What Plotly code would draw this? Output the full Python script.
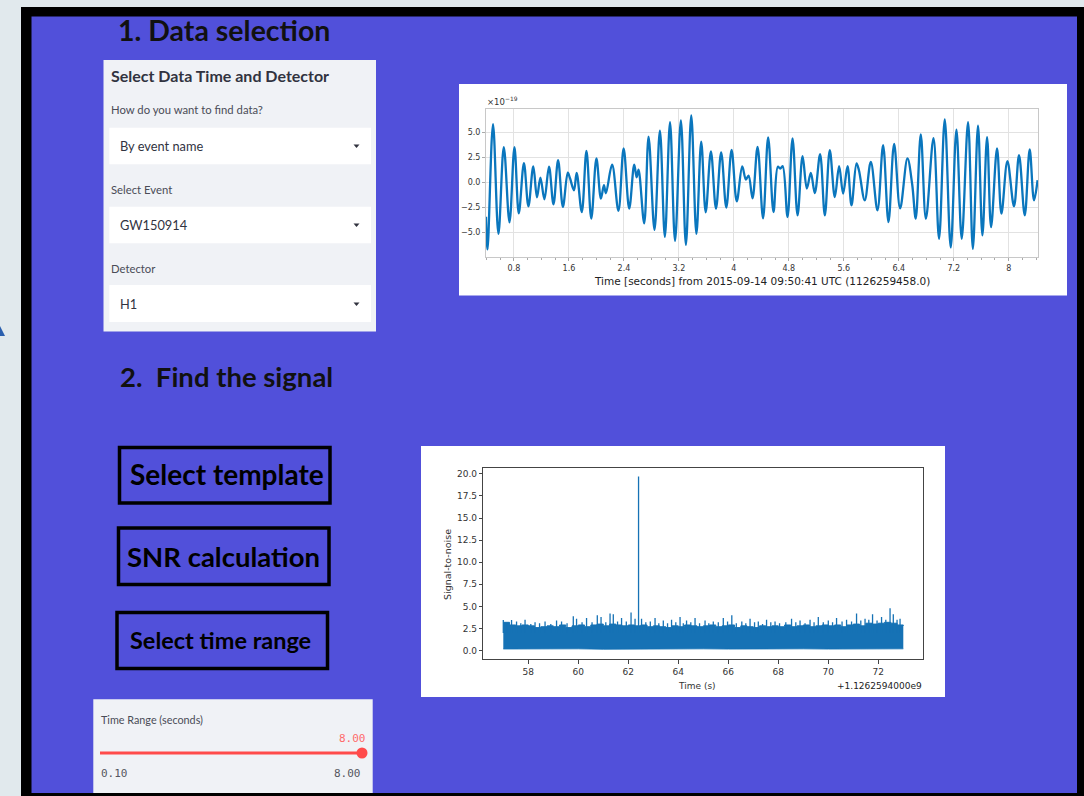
import plotly.graph_objects as go

W, H = 1084, 796

# ---- strain (H1, GW150914) : turning points of the whitened trace, units of 1e-19
strain_t = [0.393, 0.415, 0.495, 0.574, 0.652, 0.735, 0.807, 0.870, 0.945, 1.010,
            1.081, 1.135, 1.185, 1.243, 1.310, 1.375, 1.442, 1.512, 1.583, 1.615,
            1.673, 1.712, 1.787, 1.855, 1.925, 2.000, 2.065, 2.109, 2.138, 2.228,
            2.320, 2.396, 2.477, 2.550, 2.585, 2.613, 2.695, 2.759, 2.845, 2.924,
            2.996, 3.071, 3.144, 3.229, 3.302, 3.380, 3.455, 3.525, 3.590, 3.666,
            3.740, 3.815, 3.890, 3.967, 4.042, 4.122, 4.175, 4.214, 4.272, 4.345,
            4.425, 4.499, 4.577, 4.640, 4.675, 4.710, 4.781, 4.854, 4.927, 5.000,
            5.062, 5.120, 5.178, 5.255, 5.324, 5.396, 5.469, 5.532, 5.590, 5.654,
            5.712, 5.785, 5.820, 5.905, 5.993, 6.090, 6.172, 6.250, 6.332, 6.420,
            6.526, 6.595, 6.647, 6.720, 6.795, 6.905, 6.986, 7.069, 7.156, 7.239,
            7.316, 7.408, 7.478, 7.553, 7.617, 7.685, 7.743, 7.830, 7.894, 7.981,
            8.077, 8.150, 8.233, 8.305, 8.368, 8.420]
strain_v = [-3.45, -6.70, 5.80, -5.15, 3.50, -4.00, 3.50, -3.10, 1.90, -2.40,
            1.58, -1.50, 0.45, -1.70, 1.55, -2.20, 2.20, -2.45, 0.95, 0.40,
            -0.80, 0.93, -2.97, 3.13, -3.63, 2.37, -1.63, -0.30, -1.10, 1.75,
            -2.85, 3.37, -2.63, 1.75, 0.50, 1.25, -4.10, 4.55, -4.75, 5.13,
            -5.45, 5.98, -5.85, 6.17, -6.25, 6.65, -5.15, 4.05, -3.00, 3.07,
            -2.63, 2.98, -2.52, 3.23, -1.90, 1.57, 0.27, 0.65, -1.60, 3.53,
            -3.60, 4.47, -2.97, 1.55, 1.35, 1.60, -3.47, 4.37, -3.30, 2.60,
            -0.63, 0.93, -1.07, 2.80, -3.30, 3.20, -1.47, 1.60, -1.13, 1.60,
            -2.30, 1.87, 1.20, -1.80, 2.03, -2.80, 3.70, -3.97, 3.82, -2.60,
            2.37, -0.20, -3.63, 4.77, -3.63, 4.40, -5.63, 6.27, -6.50, 5.25,
            -5.63, 6.00, -6.63, 5.65, -5.30, 4.50, -4.47, 3.37, -3.13, 2.10,
            -2.40, 2.70, -3.30, 3.27, -1.80, 0.20]
strain_xticks = [0.8, 1.6, 2.4, 3.2, 4.0, 4.8, 5.6, 6.4, 7.2, 8.0]
strain_xlabels = ["0.8", "1.6", "2.4", "3.2", "4", "4.8", "5.6", "6.4", "7.2", "8"]
strain_yticks = [-5.0, -2.5, 0.0, 2.5, 5.0]

# ---- matched-filter SNR
snr_start, snr_step = 57.0, 0.25
snr_upper = [3.2, 2.9, 2.8, 2.9, 2.8, 2.6, 2.7, 2.8, 2.7, 2.9, 2.6, 2.8, 2.9,
             2.7, 2.9, 3.0, 2.8, 3.0, 2.9, 2.8, 2.9, 2.8, 2.9, 2.7, 2.8, 2.7,
             2.6, 2.8, 2.7, 2.9, 2.8, 2.7, 2.8, 2.9, 2.7, 2.8, 2.9, 2.6, 2.8,
             2.7, 2.6, 2.8, 2.7, 2.8, 2.7, 2.9, 2.7, 2.8, 2.9, 2.7, 2.8, 2.9,
             2.8, 2.9, 2.7, 2.9, 3.0, 2.8, 3.1, 3.0, 3.1, 3.2, 3.1, 2.9, 2.8]
snr_lower_t = [57, 58, 59, 60, 61, 62, 63, 64, 65, 66, 67, 68, 69, 70, 71, 72, 73]
snr_lower = [0.18, 0.2, 0.17, 0.2, 0.15, 0.18, 0.2, 0.17, 0.2, 0.17, 0.2, 0.15,
             0.2, 0.17, 0.2, 0.17, 0.2]
spike_t = [57.0, 57.15, 57.33, 57.53, 57.7, 57.87, 58.1, 58.27, 58.45, 58.67,
           58.9, 59.13, 59.33, 59.55, 59.8, 59.93, 60.15, 60.33, 60.55, 60.76,
           60.91, 61.1, 61.27, 61.4, 61.57, 61.73, 61.92, 62.11, 62.27, 62.41,
           62.53, 62.7, 62.88, 63.07, 63.22, 63.4, 63.57, 63.73, 63.9, 64.07,
           64.2, 64.33, 64.5, 64.67, 64.85, 65.07, 65.22, 65.4, 65.6, 65.8,
           65.97, 66.14, 66.32, 66.54, 66.7, 66.87, 67.05, 67.2, 67.37, 67.53,
           67.7, 67.87, 68.05, 68.3, 68.53, 68.7, 68.87, 69.07, 69.27, 69.43,
           69.6, 69.8, 70.0, 70.17, 70.33, 70.55, 70.73, 70.93, 71.13, 71.3,
           71.47, 71.62, 71.77, 71.95, 72.13, 72.3, 72.47, 72.6, 72.75, 72.87]
spike_v = [3.45, 3.1, 3.45, 3.3, 3.1, 3.5, 3.0, 3.2, 3.1, 3.3,
           3.0, 3.4, 3.3, 3.1, 3.9, 3.6, 3.2, 3.7, 3.2, 4.0,
           3.8, 3.2, 4.2, 4.1, 3.3, 3.7, 3.3, 4.3, 3.6, 19.7,
           3.6, 3.2, 3.3, 3.7, 3.1, 3.4, 3.1, 3.5, 3.2, 3.8,
           3.1, 3.4, 3.2, 3.7, 3.1, 3.4, 3.1, 3.3, 3.2, 3.7,
           3.3, 4.0, 3.1, 3.3, 3.1, 3.6, 3.2, 3.3, 3.0, 3.5,
           3.2, 3.3, 3.1, 3.2, 3.6, 3.2, 3.4, 3.1, 3.5, 3.2,
           3.8, 3.2, 3.4, 3.2, 3.7, 3.3, 3.5, 3.3, 4.2, 3.4,
           3.6, 3.5, 4.1, 3.4, 3.8, 3.5, 4.8, 4.1, 3.5, 3.6]
snr_xticks = [58, 60, 62, 64, 66, 68, 70, 72]
snr_yticks = [0.0, 2.5, 5.0, 7.5, 10.0, 12.5, 15.0, 17.5, 20.0]

BLUE = "#5150da"
PANEL = "#f0f2f6"
INK = "#31333f"
LINE = "#1672b5"
UI_FONT = "Lato"


def fx(x):
    return x / W


def fy(y):
    return 1 - y / H


def rect(x0, y0, x1, y1, fill=None, line=None, lw=0):
    return dict(type="rect", xref="paper", yref="paper", layer="below",
                x0=fx(x0), x1=fx(x1), y0=fy(y1), y1=fy(y0),
                fillcolor=fill or "rgba(0,0,0,0)",
                line=dict(color=line or "rgba(0,0,0,0)", width=lw))


def text(x, y, s, size, color=INK, family=UI_FONT, xa="left", ya="middle",
         angle=0, bold=False):
    if bold:
        s = "<b>" + s + "</b>"
    return dict(xref="paper", yref="paper", x=fx(x), y=fy(y), text=s,
                showarrow=False, xanchor=xa, yanchor=ya, textangle=angle,
                font=dict(family=family, size=size, color=color), borderpad=0)


fig = go.Figure()

# strain time series
fig.add_trace(go.Scatter(x=strain_t, y=strain_v, mode="lines",
                         line=dict(color="#0a76bd", width=2.3, shape="spline",
                                   smoothing=1.0),
                         xaxis="x", yaxis="y", hoverinfo="skip"))

# SNR band: lower edge then upper (step) edge filled between
snr_t = [snr_start + snr_step * i for i in range(len(snr_upper))]
fig.add_trace(go.Scatter(x=snr_lower_t, y=snr_lower, mode="lines",
                         line=dict(color=LINE, width=0.8),
                         xaxis="x2", yaxis="y2", hoverinfo="skip"))
fig.add_trace(go.Scatter(x=snr_t, y=snr_upper, mode="lines", fill="tonexty",
                         fillcolor=LINE, line=dict(color=LINE, width=1, shape="hv"),
                         xaxis="x2", yaxis="y2", hoverinfo="skip"))
sx, sy = [], []
for t, v in zip(spike_t, spike_v):
    sx += [t, t, None]
    sy += [2.0, v, None]
fig.add_trace(go.Scatter(x=sx, y=sy, mode="lines", line=dict(color=LINE, width=1.3),
                         xaxis="x2", yaxis="y2", hoverinfo="skip"))

shapes = [
    # wallpaper fleck at the left edge
    dict(type="path", xref="paper", yref="paper", layer="below",
         path="M {} {} L {} {} L {} {} Z".format(fx(0), fy(336), fx(5), fy(336),
                                                fx(0), fy(326)),
         fillcolor="#2a5fae", line=dict(width=0)),
    rect(21, 7, W + 5, H + 5, fill="#000000"),
    rect(31.5, 16.5, 1077, 793, fill=BLUE),
    # data-selection sidebar
    rect(103.5, 60, 376, 331.5, fill=PANEL),
    rect(109.3, 127.7, 371, 164.3, fill="#ffffff"),
    rect(109.3, 206.7, 371, 243.3, fill="#ffffff"),
    rect(109.3, 285, 371, 322, fill="#ffffff"),
    # figure canvases
    rect(459, 84, 1067, 295.5, fill="#ffffff"),
    rect(421, 446, 945, 697, fill="#ffffff"),
    # buttons
    rect(119.5, 447.5, 330, 503, line="#000000", lw=3.5),
    rect(118.5, 528, 329, 584.5, line="#000000", lw=3.5),
    rect(117, 612.5, 327.5, 668.5, line="#000000", lw=3.5),
    # slider widget
    rect(93.3, 699.3, 372.7, 793, fill=PANEL),
    dict(type="line", xref="paper", yref="paper", layer="below",
         x0=fx(100), x1=fx(362), y0=fy(753), y1=fy(753),
         line=dict(color="#ff4b4b", width=3)),
    dict(type="circle", xref="paper", yref="paper", layer="below",
         x0=fx(356.5), x1=fx(367.5), y0=fy(758.5), y1=fy(747.5),
         fillcolor="#ff4b4b", line=dict(width=0)),
]
for yc in (146, 225, 304):
    shapes.append(dict(type="path", xref="paper", yref="paper", layer="below",
                       path="M {} {} L {} {} L {} {} Z".format(
                           fx(353.5), fy(yc - 1.5), fx(359.5), fy(yc - 1.5),
                           fx(356.5), fy(yc + 2)),
                       fillcolor=INK, line=dict(width=0)))

annotations = [
    text(117, 30, "1. Data selection", 28.5, color="#111111", bold=True),
    text(110, 76, "Select Data Time and Detector", 16, bold=True),
    text(110, 110, "How do you want to find data?", 11.3, color="#4a4c57"),
    text(119, 146, "By event name", 12.8),
    text(110, 189, "Select Event", 11.3, color="#4a4c57"),
    text(119, 225, "GW150914", 12.8),
    text(110, 268, "Detector", 11.3, color="#4a4c57"),
    text(119, 304, "H1", 12.8),
    text(119, 376, "2.&nbsp; Find the signal", 27.5, color="#111111", bold=True),
    text(226.5, 474, "Select template", 28, color="#000000", xa="center", bold=True),
    text(223.5, 556, "SNR calculation", 27.5, color="#000000", xa="center", bold=True),
    text(220.5, 640, "Select time range", 23.5, color="#000000", xa="center",
         bold=True),
    text(100, 719, "Time Range (seconds)", 10.8, color="#4a4c57"),
    text(367, 738, "8.00", 11, color="#ff6b6b", family="DejaVu Sans Mono", xa="right"),
    text(100, 773, "0.10", 11, color="#555760", family="DejaVu Sans Mono"),
    text(362, 773, "8.00", 11, color="#555760", family="DejaVu Sans Mono", xa="right"),
    # strain figure labels
    text(486, 101, "×10<sup>−19</sup>", 8.5, color="#333333", family="DejaVu Sans"),
    text(762, 281, "Time [seconds] from 2015-09-14 09:50:41 UTC (1126259458.0)",
         10.5, color="#222222", family="DejaVu Sans", xa="center"),
    # SNR figure labels
    text(447, 565, "Signal-to-noise", 9.5, color="#333333", family="DejaVu Sans",
         xa="center", angle=-90),
    text(697, 686, "Time (s)", 9, color="#333333", family="DejaVu Sans", xa="center"),
    text(923, 686, "+1.1262594000e9", 9, color="#222222", family="DejaVu Sans",
         xa="right"),
]

tick_font_s = dict(family="DejaVu Sans", size=8, color="#333333")
tick_font_n = dict(family="DejaVu Sans", size=9, color="#333333")

fig.update_layout(
    width=W, height=H, margin=dict(l=0, r=0, t=0, b=0),
    paper_bgcolor="#e1e9ed", plot_bgcolor="rgba(0,0,0,0)",
    showlegend=False, shapes=shapes, annotations=annotations,
    xaxis=dict(domain=[fx(486), fx(1038)], range=[0.393, 8.426],
               tickvals=strain_xticks, ticktext=strain_xlabels,
               showgrid=True, gridcolor="#e2e2e2", gridwidth=1,
               showline=True, mirror=True, linecolor="#c8c8c8", linewidth=1,
               ticks="outside", ticklen=3, tickcolor="#aaaaaa",
               minor=dict(dtick=0.2, tick0=0, ticks="outside", ticklen=2,
                          tickcolor="#aaaaaa", showgrid=False),
               tickfont=tick_font_s, zeroline=False, anchor="y"),
    yaxis=dict(domain=[fy(257), fy(109)], range=[-7.45, 7.3],
               tickvals=strain_yticks, tickformat=".1f",
               showgrid=True, gridcolor="#e2e2e2", gridwidth=1,
               showline=True, mirror=True, linecolor="#c8c8c8", linewidth=1,
               ticks="outside", ticklen=3, tickcolor="#aaaaaa",
               tickfont=tick_font_s, zeroline=False, anchor="x"),
    xaxis2=dict(domain=[fx(483.3), fx(923.3)], range=[56.2, 73.8],
                tickvals=snr_xticks, showgrid=False, zeroline=False,
                showline=True, mirror=True, linecolor="#444444", linewidth=1,
                ticks="outside", ticklen=3.5, tickcolor="#444444",
                tickfont=tick_font_n, anchor="y2"),
    yaxis2=dict(domain=[fy(659.3), fy(467.7)], range=[-0.985, 20.7],
                tickvals=snr_yticks, tickformat=".1f", showgrid=False,
                zeroline=False, showline=True, mirror=True, linecolor="#444444",
                linewidth=1, ticks="outside", ticklen=3.5, tickcolor="#444444",
                tickfont=tick_font_n, anchor="x2"),
)

fig.write_html("out.html")
